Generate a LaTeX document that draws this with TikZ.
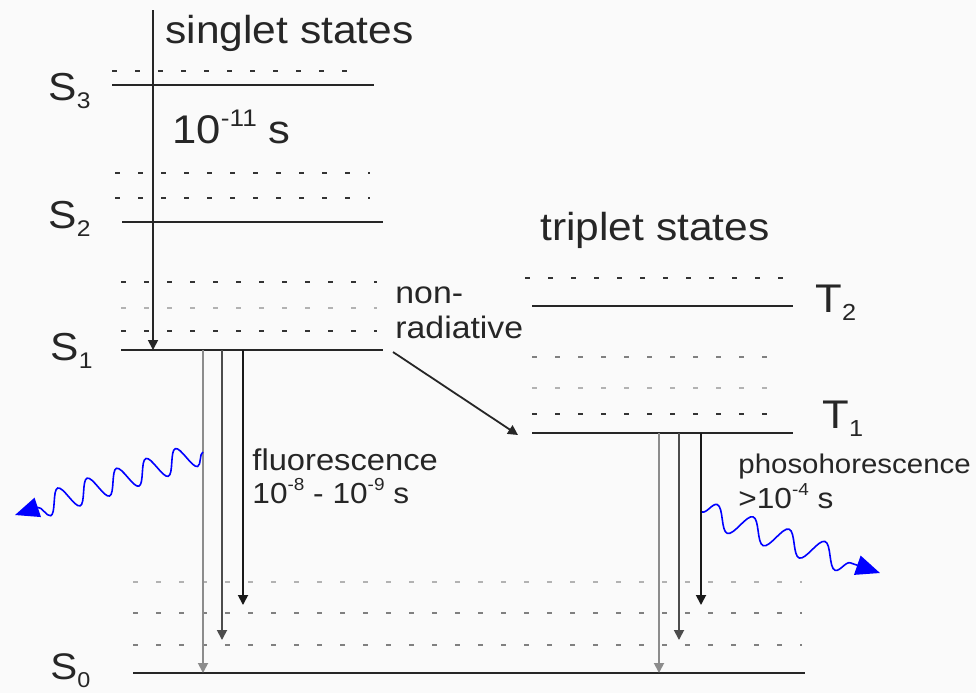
\documentclass[tikz,border=0pt]{standalone}
\usepackage{fontspec}
\usepackage{graphicx}
\setmainfont{Liberation Sans}
\usetikzlibrary{arrows.meta,decorations.pathmorphing}
\newcommand\lvsub[1]{\raisebox{-0.22em}{\scalebox{0.58}{#1}}}
\newcommand\lvsup[1]{\raisebox{0.42em}{\scalebox{0.6}{#1}}}
\begin{document}
\begin{tikzpicture}[x=0.5pt,y=-0.5pt,
  lvl/.style={line width=1pt, black!85},
  vib/.style={line width=1pt, dash pattern=on 2.5pt off 9pt, black!80},
  vibm/.style={vib, black!50},
  vibl/.style={vib, black!30},
  decay/.style={line width=0.9pt, -{Triangle[length=5pt,width=5pt]}},
  photon/.style={blue, line width=0.8pt, decorate, -{Triangle[length=12pt,width=10pt]}},
  lbl/.style={anchor=base west, inner sep=0pt, text=black!85, xscale=1.09, transform shape}]
\fill[black!2] (0,0) rectangle (976,693);
\clip (0,0) rectangle (976,693);
% ---------- coordinates ----------
\coordinate (s3dl) at (112,71);  \coordinate (s3dr) at (362,71);
\coordinate (s3l) at (112,85);   \coordinate (s3r) at (374,85);
\coordinate (s2al) at (115,173); \coordinate (s2ar) at (370,173);
\coordinate (s2bl) at (115,198); \coordinate (s2br) at (370,198);
\coordinate (s2l) at (122,222);  \coordinate (s2r) at (383,222);
\coordinate (s1al) at (121,282); \coordinate (s1ar) at (377,282);
\coordinate (s1bl) at (121,308); \coordinate (s1br) at (377,308);
\coordinate (s1cl) at (121,331); \coordinate (s1cr) at (377,331);
\coordinate (s1l) at (121,350);  \coordinate (s1r) at (383,350);
\coordinate (t2dl) at (525,278); \coordinate (t2dr) at (783,278);
\coordinate (t2l) at (532,306);  \coordinate (t2r) at (793,306);
\coordinate (t1al) at (532,357); \coordinate (t1ar) at (783,357);
\coordinate (t1bl) at (532,388); \coordinate (t1br) at (783,388);
\coordinate (t1cl) at (532,414); \coordinate (t1cr) at (783,414);
\coordinate (t1l) at (532,433);  \coordinate (t1r) at (793,433);
\coordinate (s0al) at (133,582); \coordinate (s0ar) at (802,582);
\coordinate (s0bl) at (133,613); \coordinate (s0br) at (802,613);
\coordinate (s0cl) at (133,645); \coordinate (s0cr) at (802,645);
\coordinate (s0l) at (133,673);  \coordinate (s0r) at (805,673);
% ---------- levels ----------
\draw[vib] (s3dl) -- (s3dr);
\draw[lvl] (s3l) -- (s3r);
\draw[vib] (s2al) -- (s2ar);
\draw[vib] (s2bl) -- (s2br);
\draw[lvl] (s2l) -- (s2r);
\draw[vib] (s1al) -- (s1ar);
\draw[vibl] (s1bl) -- (s1br);
\draw[vib] (s1cl) -- (s1cr);
\draw[lvl] (s1l) -- (s1r);
\draw[vib] (t2dl) -- (t2dr);
\draw[lvl] (t2l) -- (t2r);
\draw[vibm] (t1al) -- (t1ar);
\draw[vibl] (t1bl) -- (t1br);
\draw[vib] (t1cl) -- (t1cr);
\draw[lvl] (t1l) -- (t1r);
\draw[vibl] (s0al) -- (s0ar);
\draw[vibm] (s0bl) -- (s0br);
\draw[vibm] (s0cl) -- (s0cr);
\draw[lvl] (s0l) -- (s0r);
% ---------- excitation ----------
\coordinate (exTop) at (153,10);
\coordinate (exBot) at (153,350);
\draw[decay, black!85] (exTop) -- (exBot);
% ---------- fluorescence decays ----------
\coordinate (fa1) at (203,350); \coordinate (fa2) at (203,673);
\coordinate (fb1) at (222,350); \coordinate (fb2) at (222,640);
\coordinate (fc1) at (243,350); \coordinate (fc2) at (243,605);
\draw[decay, black!45] (fa1) -- (fa2);
\draw[decay, black!70] (fb1) -- (fb2);
\draw[decay, black!90] (fc1) -- (fc2);
% ---------- phosphorescence decays ----------
\coordinate (pa1) at (659,433); \coordinate (pa2) at (659,673);
\coordinate (pb1) at (679,433); \coordinate (pb2) at (679,640);
\coordinate (pc1) at (701,433); \coordinate (pc2) at (701,605);
\draw[decay, black!45] (pa1) -- (pa2);
\draw[decay, black!70] (pb1) -- (pb2);
\draw[decay, black!90] (pc1) -- (pc2);
% ---------- non-radiative ----------
\coordinate (nr1) at (393,352);
\coordinate (nr2) at (518,435);
\draw[decay, black!85] (nr1) -- (nr2);
% ---------- photons ----------
\coordinate (ph1a) at (203,452); \coordinate (ph1b) at (15,515);
\coordinate (ph2a) at (702,512); \coordinate (ph2b) at (880,573);
\draw[photon, decoration={snake, amplitude=6pt, segment length=15.5pt, post length=11pt}] (ph1a) -- (ph1b);
\draw[photon, decoration={snake, amplitude=6pt, segment length=19pt, post length=11pt}] (ph2a) -- (ph2b);
% ---------- labels ----------
\node[lbl, font=\fontsize{19.5}{22}\selectfont] (tSing) at (165,43) {singlet states};
\node[lbl, font=\fontsize{19.5}{22}\selectfont] (tTrip) at (540,240) {triplet states};
\node[lbl, font=\fontsize{19.5}{22}\selectfont] (lS3) at (48,100) {S\lvsub{3}};
\node[lbl, font=\fontsize{19.5}{22}\selectfont] (lS2) at (48,228) {S\lvsub{2}};
\node[lbl, font=\fontsize{19.5}{22}\selectfont] (lS1) at (50,360) {S\lvsub{1}};
\node[lbl, font=\fontsize{18.5}{22}\selectfont] (lS0) at (50,679) {S\lvsub{0}};
\node[lbl, font=\fontsize{20}{22}\selectfont] (lT2) at (815,312) {T\lvsub{2}};
\node[lbl, font=\fontsize{20}{22}\selectfont] (lT1) at (822,428) {T\lvsub{1}};
\node[lbl, font=\fontsize{20}{22}\selectfont] (tIC) at (172,143) {10\lvsup{-11} s};
\node[lbl, font=\fontsize{15.5}{18}\selectfont] (tNon) at (395,303) {non-};
\node[lbl, font=\fontsize{15.5}{18}\selectfont] (tRad) at (395,338) {radiative};
\node[lbl, font=\fontsize{15}{18}\selectfont] (tFl) at (252,470) {fluorescence};
\node[lbl, font=\fontsize{14.5}{18}\selectfont] (tFlT) at (252,503) {10\lvsup{-8} - 10\lvsup{-9} s};
\node[lbl, font=\fontsize{13.5}{16}\selectfont] (tPh) at (738,473) {phosohorescence};
\node[lbl, font=\fontsize{14.5}{16}\selectfont] (tPhT) at (738,508) {>10\lvsup{-4} s};
\end{tikzpicture}
\end{document}
